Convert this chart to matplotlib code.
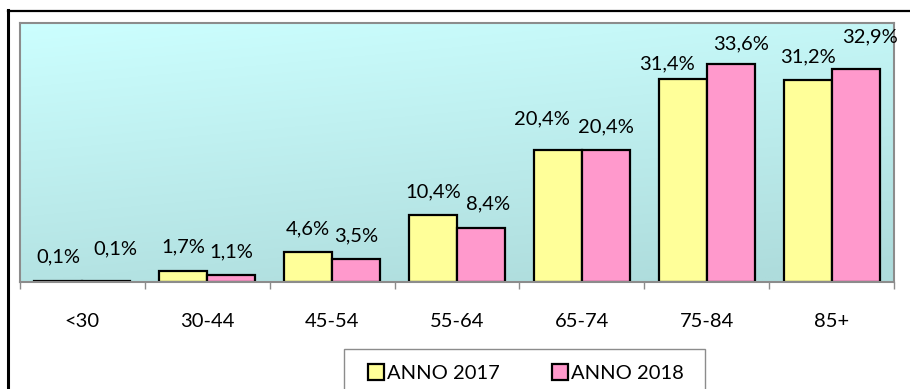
import matplotlib
matplotlib.use("Agg")
import matplotlib.pyplot as plt
from matplotlib.patches import Rectangle
from matplotlib.lines import Line2D
import numpy as np

plt.rcParams['font.family'] = ['Lato', 'DejaVu Sans']

categories = ["<30", "30-44", "45-54", "55-64", "65-74", "75-84", "85+"]
anno_2017 = [0.1, 1.7, 4.6, 10.4, 20.4, 31.4, 31.2]
anno_2018 = [0.1, 1.1, 3.5, 8.4, 20.4, 33.6, 32.9]
series_names = ["ANNO 2017", "ANNO 2018"]

# label placement (pixels from bar top-centre to label centre)
off_2017 = [(0, 24), (0, 24), (0, 23), (0, 23), (-16, 31), (-16, 15), (0, 23)]
off_2018 = [(9, 32), (0, 23), (0, 23), (7, 24), (0, 23), (10, 21), (14, 32)]

W, H = 910, 389
fig = plt.figure(figsize=(W / 100, H / 100), dpi=100)
fig.patch.set_facecolor("white")

ax = fig.add_axes([20 / W, 1 - 282 / H, (894 - 20) / W, (282 - 23) / H])

# gradient fill of the plot area, light at the top-left
ny, nx = 200, 400
yy, xx = np.mgrid[0:1:ny * 1j, 0:1:nx * 1j]
t = np.clip(0.8 * yy + 0.25 * xx, 0, 1)[..., None]
top = np.array([204, 255, 255]) / 255
bot = np.array([174, 220, 220]) / 255
grad = top * (1 - t) + bot * t
ax.imshow(grad, extent=(-0.5, 6.5, 0, 40), origin="upper", aspect="auto", zorder=0)

x = np.arange(len(categories))
bw = 0.385
b1 = ax.bar(x - bw / 2, anno_2017, bw, color="#FFFF99", edgecolor="black",
            linewidth=1.6, zorder=2, label=series_names[0])
b2 = ax.bar(x + bw / 2, anno_2018, bw, color="#FF99CC", edgecolor="black",
            linewidth=1.6, zorder=2, label=series_names[1])

def fmt(v):
    return f"{v:.1f}".replace(".", ",") + "%"

for bars, vals, offs in [(b1, anno_2017, off_2017), (b2, anno_2018, off_2018)]:
    for r, v, (dx, dy) in zip(bars, vals, offs):
        ax.annotate(fmt(v), (r.get_x() + r.get_width() / 2, v),
                    xytext=(dx, dy), textcoords="offset pixels",
                    ha="center", va="center", fontsize=14.5, zorder=3)

ax.set_xlim(-0.5, 6.5)
ax.set_ylim(0, 40)
ax.set_yticks([])

ax.set_xticks(np.arange(-0.5, 7, 1))
ax.set_xticklabels([])
ax.set_xticks(x, minor=True)
ax.set_xticklabels(categories, minor=True, fontsize=14.5)
ax.tick_params(axis="x", which="major", direction="out", length=5,
               color="#8c8c8c", width=1)
ax.tick_params(axis="x", which="minor", length=0, pad=22)

for side in ["top", "left", "right", "bottom"]:
    ax.spines[side].set_color("#8c8c8c")
    ax.spines[side].set_linewidth(1.5)

# outer chart frame (only the left and top edges fall inside the canvas)
fig.add_artist(Line2D([7.5 / W, 7.5 / W], [0, 1 - 10 / H], color="black",
                      linewidth=2.2, transform=fig.transFigure))
fig.add_artist(Line2D([7.5 / W, 1.0], [1 - 11 / H, 1 - 11 / H], color="black",
                      linewidth=1.6, transform=fig.transFigure))

# legend frame running off the bottom edge
fig.add_artist(Rectangle((344 / W, -0.05), (705 - 344) / W, 0.05 + 1 - 349 / H,
                         transform=fig.transFigure, facecolor="white",
                         edgecolor="#8c8c8c", linewidth=1.0))
fig.legend(handles=[b1, b2], loc="center", bbox_to_anchor=(526 / W, 1 - 373 / H),
           ncol=2, frameon=False, fontsize=14.5, handlelength=0.8,
           handleheight=0.8, handletextpad=0.15, columnspacing=2.6)

fig.savefig("out.png", dpi=100)
